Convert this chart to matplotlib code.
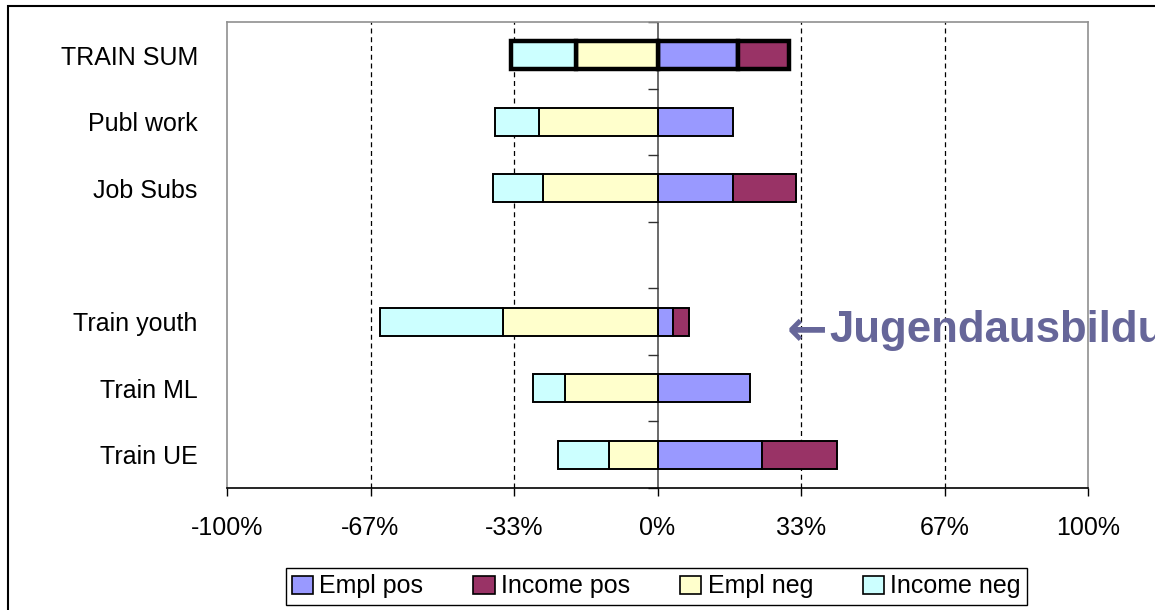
import numpy as np
import matplotlib
matplotlib.use('Agg')
import matplotlib.pyplot as plt
from matplotlib.patches import Rectangle, Patch

plt.rcParams['font.family'] = ['Liberation Sans', 'DejaVu Sans']

# data (percent), top to bottom; '' is the empty slot
categories = ['TRAIN SUM', 'Publ work', 'Job Subs', '', 'Train youth', 'Train ML', 'Train UE']
empl_pos = [18.7, 17.5, 17.5, np.nan, 3.7, 21.5, 24.2]
income_pos = [11.8, 0.0, 14.7, np.nan, 3.6, 0.0, 17.4]
empl_neg = [18.9, 27.5, 26.5, np.nan, 36.0, 21.6, 11.3]
income_neg = [15.1, 10.2, 11.7, np.nan, 28.5, 7.3, 11.7]

xticks = [-100, -200 / 3, -100 / 3, 0, 100 / 3, 200 / 3, 100]
xtick_labels = ['-100%', '-67%', '-33%', '0%', '33%', '67%', '100%']

c_empl_pos = '#9999FF'
c_income_pos = '#993366'
c_empl_neg = '#FFFFCC'
c_income_neg = '#CCFFFF'

fs = 18

fig = plt.figure(figsize=(11.55, 6.1), dpi=100)
ax = fig.add_axes([227 / 1155, 1 - 488 / 610, (1088 - 227) / 1155, (488 - 22) / 610])

n = len(categories)
ypos = np.arange(n)[::-1]
ep = np.array(empl_pos)
ip = np.array(income_pos)
en = np.array(empl_neg)
inn = np.array(income_neg)

for i in range(n):
    if categories[i] == '':
        continue
    lw = 3.2 if categories[i] == 'TRAIN SUM' else 1.4
    kw = dict(height=0.42, edgecolor='black', linewidth=lw, zorder=3)
    ax.barh(ypos[i], ep[i], left=0, color=c_empl_pos, **kw)
    if ip[i] > 0:
        ax.barh(ypos[i], ip[i], left=ep[i], color=c_income_pos, **kw)
    ax.barh(ypos[i], -en[i], left=0, color=c_empl_neg, **kw)
    ax.barh(ypos[i], -inn[i], left=-en[i], color=c_income_neg, **kw)

ax.set_xlim(-100, 100)
ax.set_ylim(-0.5, n - 0.5)

# dashed grid lines
for x in [-200 / 3, -100 / 3, 100 / 3, 200 / 3]:
    ax.axvline(x, color='black', lw=0.9, ls=(0, (4, 3)), zorder=1)

# zero axis with its tick marks at category boundaries
ax.axvline(0, color='#505050', lw=1.2, zorder=2)
ax.hlines(np.arange(n + 1) - 0.5, -2.1, 0, color='#303030', lw=1.0, zorder=2, clip_on=False)

ax.set_yticks(ypos)
ax.set_yticklabels(categories, fontsize=fs)
ax.tick_params(axis='y', length=0, pad=21)
ax.set_xticks(xticks)
ax.set_xticklabels(xtick_labels, fontsize=fs)
ax.tick_params(axis='x', length=6, width=1, pad=14, direction='out')

for s in ['top', 'left', 'right']:
    ax.spines[s].set_color('#909090')
    ax.spines[s].set_linewidth(1.2)
ax.spines['bottom'].set_color('black')
ax.spines['bottom'].set_linewidth(1.2)

handles = [Patch(facecolor=c_empl_pos, edgecolor='black', lw=1.2),
           Patch(facecolor=c_income_pos, edgecolor='black', lw=1.2),
           Patch(facecolor=c_empl_neg, edgecolor='black', lw=1.2),
           Patch(facecolor=c_income_neg, edgecolor='black', lw=1.2)]
leg = fig.legend(handles, ['Empl pos', 'Income pos', 'Empl neg', 'Income neg'],
                 loc='center', bbox_to_anchor=(656.5 / 1155, 1 - 586.5 / 610),
                 ncol=4, fontsize=fs, frameon=True, fancybox=False, framealpha=1,
                 handlelength=0.85, handleheight=0.7, handletextpad=0.25,
                 columnspacing=2.0, borderpad=0.25, borderaxespad=0)
leg.get_frame().set_edgecolor('black')
leg.get_frame().set_linewidth(1.0)

base_y = 1 - 342 / 610
fig.text(787 / 1155, 1 - 326 / 610, '\u2190', family='DejaVu Sans', fontsize=35,
         fontweight='bold', color='#666699', va='center_baseline', ha='left')
fig.text(829 / 1155, base_y, 'Jugendausbildung', fontsize=31.5,
         fontweight='bold', color='#666699', va='baseline', ha='left')

# outer chart border
fig.patches.append(Rectangle((8 / 1155, -0.2), 1.2, 1 - 6 / 610 + 0.2,
                             transform=fig.transFigure, fill=False,
                             edgecolor='black', lw=1.5))

fig.savefig('out.png', dpi=100)
